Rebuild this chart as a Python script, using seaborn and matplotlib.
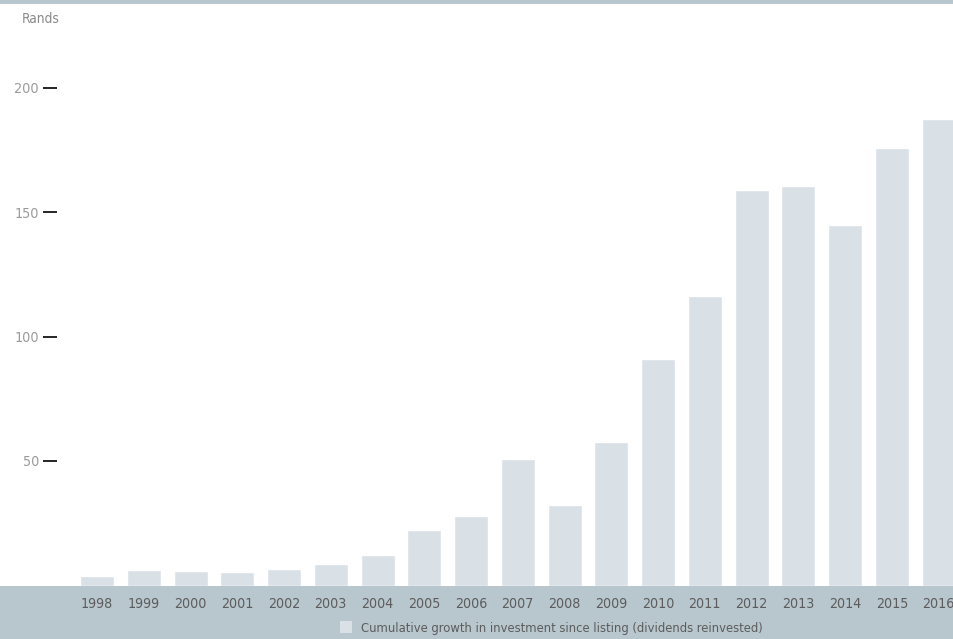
import matplotlib
matplotlib.use("Agg")
import matplotlib.pyplot as plt
from matplotlib import font_manager
from matplotlib.patches import Rectangle, Patch
import seaborn as sns
import pandas as pd

years = [str(y) for y in range(1998, 2017)]
values = [3.8, 6.2, 5.8, 5.4, 6.6, 8.6, 12.2, 22.3, 27.9, 50.8,
          32.3, 57.6, 90.9, 116.3, 158.8, 160.4, 144.8, 175.7, 187.3]
y_ticks = [50, 100, 150, 200]
series_label = "Cumulative growth in investment since listing (dividends reinvested)"

BAR = "#d9e1e7"
BAND = "#b8c6cd"

sns.set_theme(style="white")

# prefer a narrow sans face when one is installed
narrow = None
for f in font_manager.fontManager.ttflist:
    if f.stretch in ("condensed", "semi-condensed", "extra-condensed") or \
            "Narrow" in f.name or "Condensed" in f.name:
        narrow = f
        break
if narrow is not None:
    plt.rcParams["font.family"] = [narrow.name, "DejaVu Sans"]
    plt.rcParams["font.stretch"] = narrow.stretch
    scale = 1.0
else:
    plt.rcParams["font.family"] = ["Roboto", "DejaVu Sans"]
    scale = 0.8

df = pd.DataFrame({"year": years, "value": values})

W, H = 954, 639
fig = plt.figure(figsize=(W / 100, H / 100), dpi=100)
ax = fig.add_axes([57 / W, 53.5 / H, 1 - 57 / W, (585.5 - 37.7) / H])

# grey bands along the top edge and under the plot
fig.add_artist(Rectangle((0, 0), 1, 53.5 / H, transform=fig.transFigure,
                         facecolor=BAND, edgecolor="none", zorder=0))
fig.add_artist(Rectangle((0, 1 - 4 / H), 1, 4 / H, transform=fig.transFigure,
                         facecolor=BAND, edgecolor="none", zorder=0))

sns.barplot(data=df, x="year", y="value", color=BAR, saturation=1,
            width=0.727, ax=ax, zorder=2)

ax.set_xlim(-0.856, 18.33)
ax.set_ylim(0, 220)
ax.set_yticks(y_ticks)
ax.set_yticklabels([str(t) for t in y_ticks])
ax.tick_params(axis="y", direction="out", length=10, width=1.2, color="black",
               pad=3, labelsize=10.3 * scale, labelcolor="#9a9a9a", left=True)
ax.tick_params(axis="x", length=0, pad=8.5, labelsize=10.2 * scale,
               labelcolor="#5c5c5c")
ax.set_xlabel("")
ax.set_ylabel("")
for s in ax.spines.values():
    s.set_visible(False)
ax.patch.set_alpha(0)

fig.text(22 / W, 1 - 19 / H, "Rands", fontsize=9.8 * scale, color="#8a8a8a",
         ha="left", va="center")

fig.legend(handles=[Patch(facecolor=BAR, edgecolor="none", label=series_label)],
           loc="center left", bbox_to_anchor=(340 / W, 1 - 628 / H),
           frameon=False, borderaxespad=0, borderpad=0,
           fontsize=9.3 * scale, handlelength=0.95, handleheight=0.95,
           handletextpad=0.65, labelcolor="#5c5c5c")

fig.savefig("out.png", dpi=100)
